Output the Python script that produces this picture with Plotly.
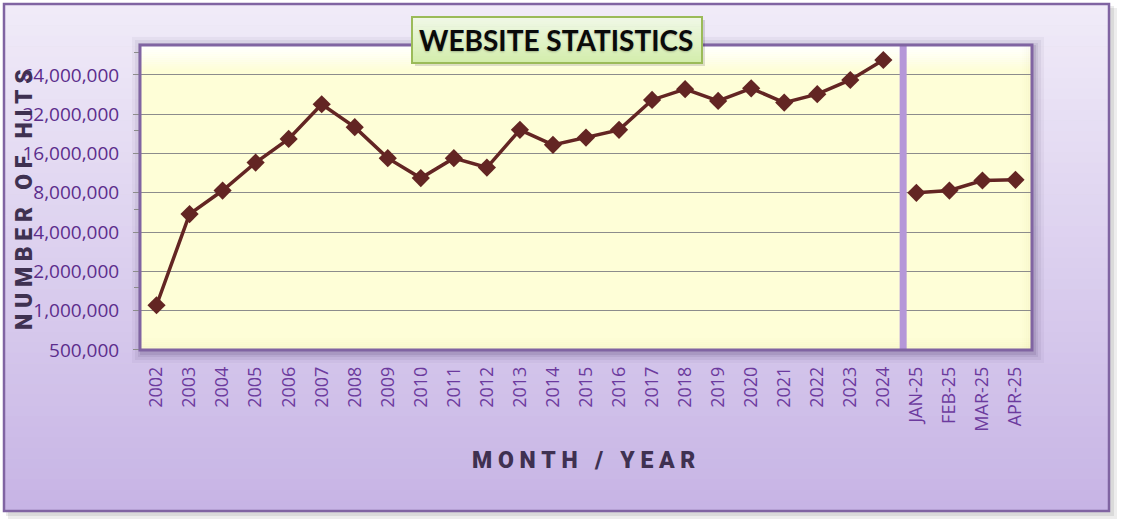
import plotly.graph_objects as go

# ---------------- data ----------------
years = ["2002", "2003", "2004", "2005", "2006", "2007", "2008", "2009", "2010",
         "2011", "2012", "2013", "2014", "2015", "2016", "2017", "2018", "2019",
         "2020", "2021", "2022", "2023", "2024"]
year_hits = [1100000, 5500000, 8330000, 13650000, 20700000, 38200000, 25500000,
             14750000, 10370000, 14750000, 12500000, 24300000, 18650000, 21200000,
             24300000, 41200000, 49800000, 40500000, 50600000, 39300000, 45600000,
             58600000, 83400000]
months = ["JAN-25", "FEB-25", "MAR-25", "APR-25"]
month_hits = [8000000, 8330000, 9940000, 10060000]

y_tickvals = [500000, 1000000, 2000000, 4000000, 8000000, 16000000, 32000000, 64000000]
y_ticktext = ["500,000", "1,000,000", "2,000,000", "4,000,000", "8,000,000",
              "16,000,000", "32,000,000", "64,000,000"]
y_minor = [1500000, 6000000, 24000000, 96000000]

title_text = "WEBSITE STATISTICS"
x_title = "M\u00a0O\u00a0N\u00a0T\u00a0H\u00a0\u00a0\u00a0/\u00a0\u00a0\u00a0Y\u00a0E\u00a0A\u00a0R"
y_title = "N\u00a0U\u00a0M\u00a0B\u00a0E\u00a0R\u00a0\u00a0\u00a0O\u00a0F\u00a0\u00a0\u00a0H\u00a0I\u00a0T\u00a0S"

# ---------------- layout helpers ----------------
W, H = 1122, 524
L, R, T, B = 140, 1032, 45, 350


def px(x):
    return (x - L) / (R - L)


def py(y):
    return (B - y) / (B - T)


def hexrgb(h):
    h = h.lstrip("#")
    return tuple(int(h[i:i + 2], 16) for i in (0, 2, 4))


def mix(c1, c2, t):
    a, b = hexrgb(c1), hexrgb(c2)
    return "rgb(%d,%d,%d)" % tuple(round(a[i] + (b[i] - a[i]) * t) for i in range(3))


shapes = []


def rect(x0, y0, x1, y1, fill=None, line=None, lw=0, layer="below"):
    d = dict(type="rect", xref="paper", yref="paper",
             x0=px(x0), x1=px(x1), y0=py(y1), y1=py(y0), layer=layer,
             line=dict(width=lw, color=line if line else "rgba(0,0,0,0)"))
    d["fillcolor"] = fill if fill else "rgba(0,0,0,0)"
    shapes.append(d)


def vgrad(x0, y0, x1, y1, ctop, cbot, n, layer="below"):
    h = (y1 - y0) / n
    for i in range(n):
        t = i / max(n - 1, 1)
        rect(x0, y0 + i * h, x1, y0 + (i + 1) * h + 0.6, fill=mix(ctop, cbot, t), layer=layer)


# outer shadow
rect(8, 8, 1117, 519, fill="rgba(0,0,0,0.07)")
rect(6, 6, 1114, 516, fill="rgba(0,0,0,0.08)")
# outer background gradient
vgrad(4, 4, 1109, 511, "#F0EBF8", "#C7B4E5", 48)
rect(4, 4, 1109, 511, line="#8064A2", lw=2.5)
# plot area shadow
for k, a in [(10, 0.05), (7, 0.07), (4, 0.09), (2, 0.12)]:
    rect(L - k + 2, T - k + 2, R + k + 2, B + k + 3, fill="rgba(70,50,100,%.2f)" % a)
# plot area fill
rect(L, T, R, B, fill="#FEFED7")
# top bevel highlight
for i in range(12):
    a = 0.95 * (1 - i / 12)
    rect(L, T + i * 2, R, T + (i + 1) * 2 + 0.5, fill="rgba(255,255,255,%.3f)" % a)
# bottom slightly darker strip
for i in range(6):
    a = 0.05 * (i + 1) / 6
    rect(L, B - 12 + i * 2, R, B - 10 + i * 2 + 0.5, fill="rgba(170,160,60,%.3f)" % a)
# right darker strip
for i in range(5):
    a = 0.05 * (i + 1) / 5
    rect(R - 10 + i * 2, T, R - 8 + i * 2 + 0.5, B, fill="rgba(170,160,60,%.3f)" % a)

# separator between years and months
shapes.append(dict(type="line", xref="x", yref="paper", x0=22.6, x1=22.6, y0=0, y1=1,
                   layer="above", line=dict(color="#B597D8", width=7)))
# plot border
rect(L, T, R, B, line="#8064A2", lw=3, layer="above")
# title box
rect(415, 20, 705, 66, fill="rgba(0,0,0,0.13)", layer="above")
vgrad(412, 17, 702, 63, "#F0F8E6", "#D3EDAC", 20, layer="above")
rect(412, 17, 702, 63, line="#9BBB59", lw=2, layer="above")

# ---------------- figure ----------------
line_color = "#632523"
fig = go.Figure()
fig.add_trace(go.Scatter(x=years, y=year_hits, mode="lines+markers",
                         line=dict(color=line_color, width=3.5),
                         marker=dict(symbol="diamond", size=14, color=line_color),
                         showlegend=False, hoverinfo="x+y"))
fig.add_trace(go.Scatter(x=months, y=month_hits, mode="lines+markers",
                         line=dict(color=line_color, width=3.5),
                         marker=dict(symbol="diamond", size=14, color=line_color),
                         showlegend=False, hoverinfo="x+y"))

fig.update_layout(
    width=W, height=H,
    margin=dict(l=L, r=W - R, t=T, b=H - B, pad=0),
    paper_bgcolor="white",
    plot_bgcolor="rgba(0,0,0,0)",
    shapes=shapes,
    xaxis=dict(type="category", categoryorder="array", categoryarray=years + months,
               range=[-0.5, 26.5], showgrid=False, zeroline=False, showline=False,
               ticks="", tickangle=-90, ticklabelstandoff=12,
               tickfont=dict(family="Open Sans", size=18, color="#6C3A9E")),
    yaxis=dict(type="log", range=[5.6985, 8.036], tickmode="array",
               tickvals=y_tickvals, ticktext=y_ticktext,
               showgrid=True, gridcolor="#8C8C8C", gridwidth=1.3,
               zeroline=False, showline=False,
               ticks="outside", ticklen=6, tickcolor="#8C8C8C", tickwidth=1.3,
               ticklabelstandoff=10,
               minor=dict(tickmode="array", tickvals=y_minor, ticks="outside",
                          ticklen=5, tickcolor="#8C8C8C", showgrid=False),
               tickfont=dict(family="Open Sans", size=19, color="#5C2D8C")),
    annotations=[
        dict(xref="paper", yref="paper", x=px(556), y=py(40), text="<b>%s</b>" % title_text,
             showarrow=False, xanchor="center", yanchor="middle",
             font=dict(family="Lato", size=28, color="#0A0A0A",
                       shadow="0px 1px 2px rgba(0,0,0,0.25)")),
        dict(xref="paper", yref="paper", x=px(583), y=py(460.5), text=x_title,
             showarrow=False, xanchor="center", yanchor="middle",
             font=dict(family="Roboto", size=23, color="#3F3151", weight=900)),
        dict(xref="paper", yref="paper", x=px(24), y=py(200), text=y_title,
             textangle=-90, showarrow=False, xanchor="center", yanchor="middle",
             font=dict(family="Roboto", size=23, color="#3F3151", weight=900)),
    ],
)

fig.write_html("out.html",
               config={"displayModeBar": False},
               post_script="document.body.style.margin='0';document.body.style.padding='0';"
                           "document.body.style.overflow='hidden';")
